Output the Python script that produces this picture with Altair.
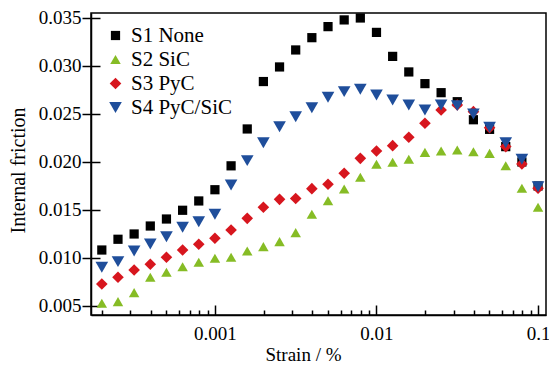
import altair as alt
import pandas as pd

strain = [0.0001995, 0.0002512, 0.0003162, 0.0003981, 0.0005012, 0.000631, 0.0007943,
          0.001, 0.001259, 0.001585, 0.001995, 0.002512, 0.003162, 0.003981, 0.005012,
          0.00631, 0.007943, 0.01, 0.01259, 0.01585, 0.01995, 0.02512, 0.03162, 0.03981,
          0.05012, 0.0631, 0.07943, 0.1]

s1 = [0.01083, 0.01195, 0.0125, 0.01333, 0.01406, 0.01497, 0.01594, 0.01711, 0.0196,
      0.02344, 0.02838, 0.0299, 0.03167, 0.03295, 0.0341, 0.0348, 0.0350, 0.0335, 0.0310,
      0.02938, 0.02816, 0.02722, 0.02628, 0.0244, 0.0234, 0.0216, 0.0200, 0.0175]
s2 = [0.00528, 0.00545, 0.00639, 0.00799, 0.00851, 0.00909, 0.00955, 0.00997, 0.01007,
      0.01073, 0.01118, 0.0117, 0.01264, 0.01455, 0.01597, 0.01719, 0.01841, 0.01976,
      0.01997, 0.02028, 0.021, 0.02115, 0.02125, 0.02107, 0.0209, 0.01961, 0.01726, 0.01528]
s3 = [0.00729, 0.00799, 0.00875, 0.00934, 0.01007, 0.01083, 0.01143, 0.01205, 0.01292,
      0.01413, 0.01528, 0.01611, 0.0162, 0.01722, 0.01768, 0.01882, 0.02038, 0.02115,
      0.0217, 0.02257, 0.02403, 0.02542, 0.02594, 0.02524, 0.02357, 0.0216, 0.0198, 0.01726]
s4 = [0.00903, 0.00962, 0.01073, 0.01146, 0.01222, 0.0132, 0.01378, 0.01455, 0.0176,
      0.02014, 0.02201, 0.02368, 0.02472, 0.02566, 0.02674, 0.02733, 0.02757, 0.02698,
      0.02646, 0.02594, 0.02542, 0.02594, 0.02587, 0.025, 0.02361, 0.02201, 0.02028, 0.01743]

series_names = ["S1 None", "S2 SiC", "S3 PyC", "S4 PyC/SiC"]
colors = ["#000000", "#86bc25", "#d7161e", "#1f4e9b"]
shapes = ["square", "triangle-up", "diamond", "triangle-down"]
sizes = [85, 160, 170, 165]

x_major = [0.001, 0.01, 0.1]
x_minor = [0.0002, 0.0003, 0.0004, 0.0005, 0.0006, 0.0007, 0.0008, 0.0009,
           0.002, 0.003, 0.004, 0.005, 0.006, 0.007, 0.008, 0.009,
           0.02, 0.03, 0.04, 0.05, 0.06, 0.07, 0.08, 0.09]
y_ticks = [0.005, 0.010, 0.015, 0.020, 0.025, 0.030, 0.035]

rows = []
for name, vals in zip(series_names, [s1, s2, s3, s4]):
    for xv, yv in zip(strain, vals):
        rows.append({"strain": xv, "friction": yv, "series": name})
df = pd.DataFrame(rows)

FONT = "Liberation Serif"
xscale = alt.Scale(type="log", domain=[0.000171, 0.112], nice=False)
yscale = alt.Scale(domain=[0.00406, 0.03552], nice=False, zero=False)

legend = alt.Legend(title=None, orient="none", legendX=14, legendY=12,
                    labelFont=FONT, labelFontSize=21, labelColor="black",
                    rowPadding=2, labelOffset=5, padding=0,
                    symbolStrokeWidth=0, symbolOpacity=1)

base = alt.Chart(df)

points = base.mark_point(filled=True, opacity=1, strokeWidth=0).encode(
    x=alt.X("strain:Q", scale=xscale,
            axis=alt.Axis(orient="bottom", values=x_major, format="~g", ticks=False,
                          grid=False, domain=True, domainColor="black", domainWidth=1.5,
                          labelFont=FONT, labelFontSize=19, labelColor="black",
                          labelPadding=9, labelFlush=False,
                          title="Strain / %", titleFont=FONT, titleFontSize=19,
                          titleFontWeight="normal", titleColor="black",
                          titleX=212, titleY=39, titleBaseline="middle")),
    y=alt.Y("friction:Q", scale=yscale,
            axis=alt.Axis(orient="left", values=y_ticks, format=".3f", ticks=True,
                          tickSize=9, tickColor="black", tickWidth=1.5, grid=False,
                          domain=True, domainColor="black", domainWidth=1.5,
                          labelFont=FONT, labelFontSize=19, labelColor="black",
                          labelPadding=1, labelFlush=False,
                          title="Internal friction", titleFont=FONT, titleFontSize=20,
                          titleFontWeight="normal", titleColor="black",
                          titleX=-73, titleY=157, titleAngle=270, titleAlign="center",
                          titleBaseline="middle")),
    color=alt.Color("series:N", scale=alt.Scale(domain=series_names, range=colors), legend=legend),
    shape=alt.Shape("series:N", scale=alt.Scale(domain=series_names, range=shapes), legend=legend),
    size=alt.Size("series:N", scale=alt.Scale(domain=series_names, range=sizes), legend=legend),
)

major_ticks = base.mark_point(opacity=0).encode(
    x=alt.X("strain:Q", scale=xscale,
            axis=alt.Axis(orient="bottom", values=x_major, labels=False, domain=False,
                          grid=False, tickSize=10, tickColor="black", tickWidth=1.5,
                          offset=-10, title=None)),
    y=alt.Y("friction:Q", scale=yscale,
            axis=alt.Axis(orient="left", values=y_ticks, labels=False, domain=False,
                          grid=False, tickSize=9, tickColor="black", tickWidth=1.5,
                          offset=-9, title=None)),
)

minor_ticks = base.mark_point(opacity=0).encode(
    x=alt.X("strain:Q", scale=xscale,
            axis=alt.Axis(orient="bottom", values=x_minor, labels=False, domain=False,
                          grid=False, tickSize=5, tickColor="black", tickWidth=1.5,
                          offset=-5, title=None)),
    y=alt.Y("friction:Q", scale=yscale, axis=None),
)

chart = alt.layer(points, major_ticks, minor_ticks).resolve_axis(
    x="independent", y="independent"
).properties(
    width=455, height=302,
    padding={"left": 91, "top": 13, "right": 3, "bottom": 50},
    autosize=alt.AutoSizeParams(type="none"),
    background="white",
).configure(font=FONT).configure_legend(
    labelFont=FONT, labelFontSize=21, labelColor="black"
).configure_axis(labelFont=FONT, titleFont=FONT).configure_view(
    stroke="black", strokeWidth=1.5
)

chart.save("out.html", embed_options={"renderer": "svg", "actions": False})
